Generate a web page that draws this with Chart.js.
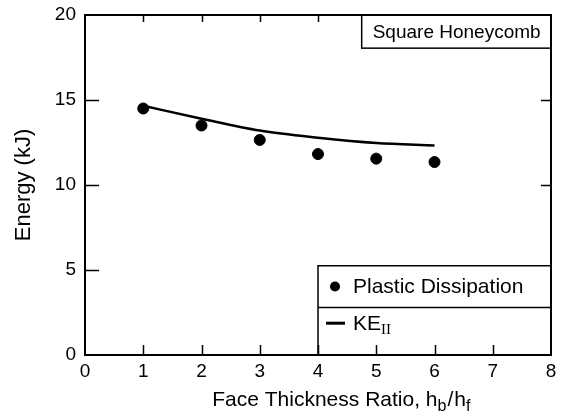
<!DOCTYPE html>
<html>
<head>
<meta charset="utf-8">
<script src="https://cdn.jsdelivr.net/npm/chart.js@4"></script>
<style>
  html, body { margin: 0; padding: 0; background: #fff; }
</style>
</head>
<body>
<canvas id="grafica" width="563" height="414"></canvas>
<script>
"use strict";

// relacion de espesores hb/hf
const ratios = [1, 2, 3, 4, 5, 6];
// energia disipada plasticamente (kJ), puntos
const plastic = [14.5, 13.5, 12.65, 11.82, 11.55, 11.35];
// energia cinetica KE_II (kJ), curva
const keII = [14.66, 13.9, 13.2, 12.78, 12.47, 12.33];

const xTicks = [0, 1, 2, 3, 4, 5, 6, 7, 8];
const yTicks = [0, 5, 10, 15, 20];

const fuente = "'Liberation Sans', Arial, Helvetica, sans-serif";
const serif = "'Liberation Serif', 'Times New Roman', serif";

// escribe un texto con partes en subindice, devuelve el ancho total
function textoCompuesto(ctx, partes, x, y, medir) {
    let ancho = 0;
    partes.forEach(p => {
        ctx.font = p.font;
        let w = ctx.measureText(p.t).width + (p.gap || 0);
        if (!medir) ctx.fillText(p.t, x + ancho, y + (p.dy || 0));
        ancho += w;
    });
    return ancho;
}

const marco = {
    id: "marco",
    afterDraw(chart) {
        const ctx = chart.ctx;
        const a = chart.chartArea;
        const sx = chart.scales.x;
        const sy = chart.scales.y;
        ctx.save();
        ctx.strokeStyle = "#000";
        ctx.fillStyle = "#000";

        // ticks hacia adentro: izquierda, derecha y arriba
        ctx.lineWidth = 1.5;
        ctx.beginPath();
        yTicks.slice(1, -1).forEach(v => {
            let py = Math.round(sy.getPixelForValue(v)) + 0.5;
            ctx.moveTo(a.left, py); ctx.lineTo(a.left + 14, py);
            ctx.moveTo(a.right, py); ctx.lineTo(a.right - 10, py);
        });
        xTicks.slice(1, -1).forEach(v => {
            let px = Math.round(sx.getPixelForValue(v)) + 0.5;
            ctx.moveTo(px, a.top); ctx.lineTo(px, a.top + 7);
        });
        ctx.stroke();

        // recuadro "Square Honeycomb"
        const bx = sx.getPixelForValue(4.75);
        const by = sy.getPixelForValue(18.05);
        ctx.fillStyle = "#fff";
        ctx.fillRect(bx, a.top, a.right - bx, by - a.top);
        ctx.lineWidth = 1.5;
        ctx.strokeRect(bx, a.top, a.right - bx, by - a.top);
        ctx.fillStyle = "#000";
        ctx.font = "19px " + fuente;
        ctx.textBaseline = "middle";
        ctx.textAlign = "left";
        ctx.fillText("Square Honeycomb", bx + 11, (a.top + by) / 2 + 1);

        // leyenda abajo a la derecha
        const lx = sx.getPixelForValue(4);
        const ly = sy.getPixelForValue(5.25);
        const ld = sy.getPixelForValue(2.8);
        ctx.fillStyle = "#fff";
        ctx.fillRect(lx, ly, a.right - lx, a.bottom - ly);
        ctx.beginPath();
        ctx.rect(lx, ly, a.right - lx, a.bottom - ly);
        ctx.moveTo(lx, ld); ctx.lineTo(a.right, ld);
        ctx.stroke();

        ctx.fillStyle = "#000";
        let y1 = (ly + ld) / 2;
        ctx.beginPath();
        ctx.arc(lx + 17, y1, 5, 0, Math.PI * 2);
        ctx.fill();
        ctx.font = "21px " + fuente;
        ctx.fillText("Plastic Dissipation", lx + 35, y1 + 1);

        let y2 = (ld + a.bottom) / 2 - 8;
        ctx.lineWidth = 3;
        ctx.beginPath();
        ctx.moveTo(lx + 8, y2); ctx.lineTo(lx + 27, y2);
        ctx.stroke();
        textoCompuesto(ctx, [
            { t: "KE", font: "21px " + fuente },
            { t: "II", font: "15px " + serif, dy: 6 }
        ], lx + 35, y2 + 1);

        // ticks de abajo (se ven sobre la leyenda)
        ctx.lineWidth = 1.5;
        ctx.beginPath();
        xTicks.slice(1, -1).forEach(v => {
            let px = Math.round(sx.getPixelForValue(v)) + 0.5;
            ctx.moveTo(px, a.bottom); ctx.lineTo(px, a.bottom - 10);
        });
        ctx.stroke();

        // marco del area
        ctx.lineWidth = 2;
        ctx.strokeRect(a.left, a.top, a.right - a.left, a.bottom - a.top);

        // titulo eje x con subindices
        const partesX = [
            { t: "Face Thickness Ratio, h", font: "21px " + fuente },
            { t: "b", font: "16px " + fuente, dy: 5, gap: 1 },
            { t: "/", font: "21px " + fuente, gap: 1 },
            { t: "h", font: "21px " + fuente },
            { t: "f", font: "16px " + fuente, dy: 5 }
        ];
        ctx.textBaseline = "alphabetic";
        let anchoX = textoCompuesto(ctx, partesX, 0, 0, true);
        textoCompuesto(ctx, partesX, sx.getPixelForValue(4.4) - anchoX / 2, 406);

        // titulo eje y
        ctx.translate(24, (a.top + a.bottom) / 2);
        ctx.rotate(-Math.PI / 2);
        ctx.textAlign = "center";
        ctx.textBaseline = "middle";
        ctx.font = "22px " + fuente;
        ctx.fillText("Energy (kJ)", 0, 0);
        ctx.restore();
    }
};

new Chart(document.getElementById("grafica"), {
    type: "scatter",
    data: {
        datasets: [
            {
                label: "Plastic Dissipation",
                data: ratios.map((r, i) => ({ x: r, y: plastic[i] })),
                backgroundColor: "#000",
                borderColor: "#000",
                pointRadius: 5.5,
                showLine: false
            },
            {
                label: "KE_II",
                data: ratios.map((r, i) => ({ x: r, y: keII[i] })),
                borderColor: "#000",
                borderWidth: 2.5,
                pointRadius: 0,
                showLine: true,
                cubicInterpolationMode: "monotone"
            }
        ]
    },
    options: {
        responsive: false,
        animation: false,
        devicePixelRatio: 1,
        layout: { padding: { top: 15, right: 12, left: 0, bottom: 0 } },
        plugins: { legend: { display: false }, tooltip: { enabled: false } },
        scales: {
            x: {
                type: "linear",
                min: 0, max: 8,
                afterFit: s => { s.height = 59; s.paddingLeft = 0; s.paddingRight = 0; },
                afterBuildTicks: s => { s.ticks = xTicks.map(v => ({ value: v })); },
                grid: { display: false, drawTicks: false },
                border: { display: false },
                ticks: { color: "#000", padding: 5, font: { family: fuente, size: 19 } }
            },
            y: {
                min: 0, max: 20,
                afterFit: s => { s.width = 85; s.paddingTop = 0; s.paddingBottom = 0; },
                afterBuildTicks: s => { s.ticks = yTicks.map(v => ({ value: v })); },
                grid: { display: false, drawTicks: false },
                border: { display: false },
                ticks: { color: "#000", padding: 9, font: { family: fuente, size: 19 } }
            }
        }
    },
    plugins: [marco]
});
</script>
</body>
</html>
